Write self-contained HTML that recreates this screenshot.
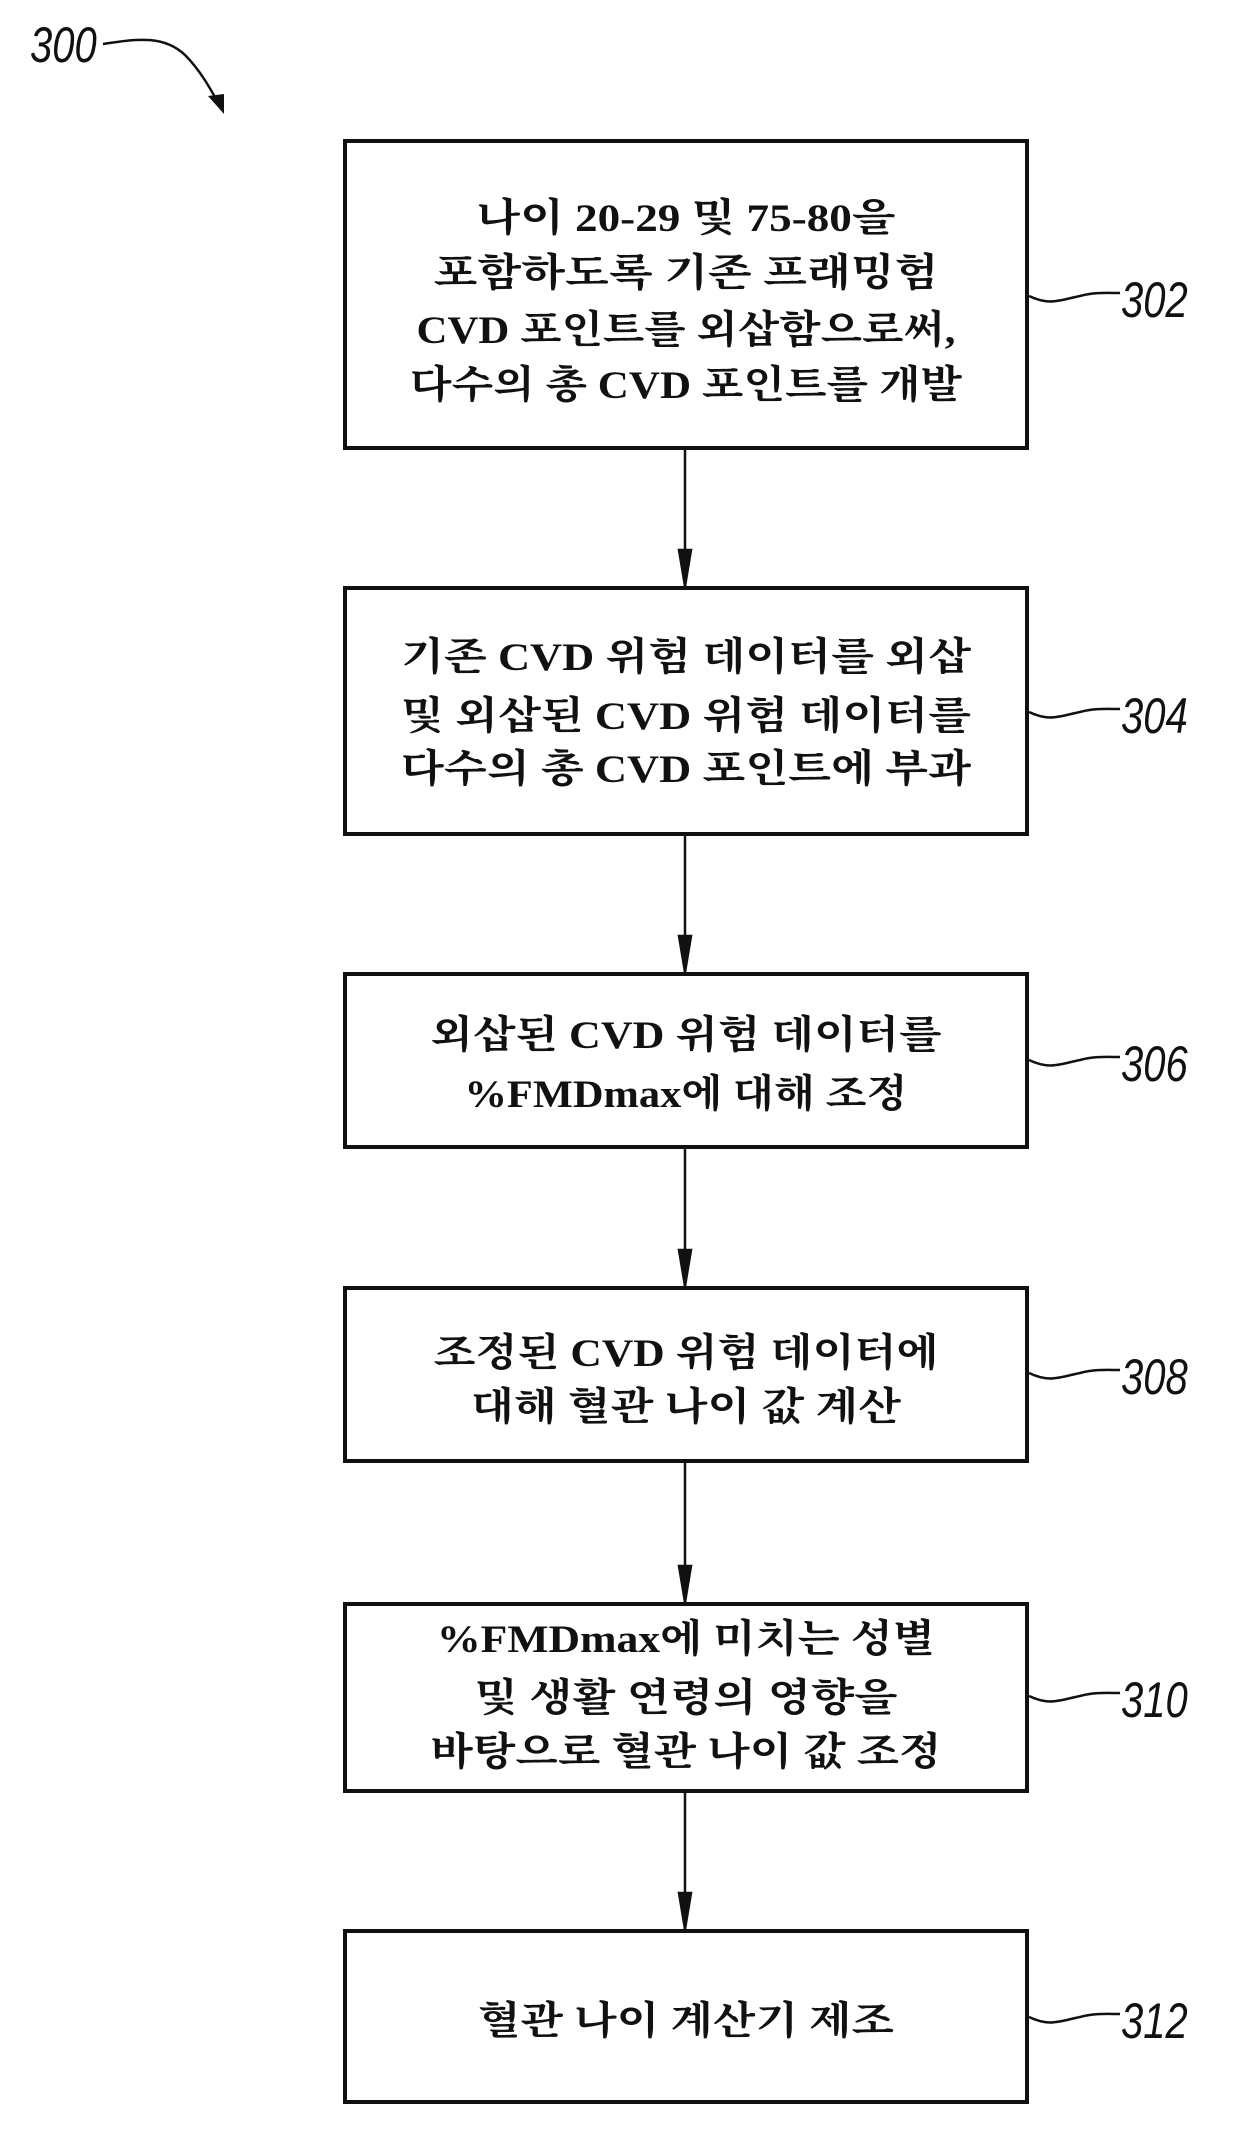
<!DOCTYPE html>
<html><head><meta charset="utf-8"><style>
html,body{margin:0;padding:0;background:#fff}
svg{display:block}
.t{font-family:"Liberation Serif","Noto Serif CJK SC","Noto Serif CJK KR",serif;font-weight:bold;font-size:39px;fill:#111;text-anchor:middle}
.l{font-family:"Liberation Sans",sans-serif;font-style:italic;font-size:50px;fill:#111}
</style></head><body>
<svg width="1240" height="2140" viewBox="0 0 1240 2140" xmlns="http://www.w3.org/2000/svg">
<g fill="none" stroke="#111" stroke-width="4">
<rect x="345" y="141" width="682" height="307"/>
<rect x="345" y="588" width="682" height="246"/>
<rect x="345" y="974" width="682" height="173"/>
<rect x="345" y="1288" width="682" height="173"/>
<rect x="345" y="1604" width="682" height="187"/>
<rect x="345" y="1931" width="682" height="171"/>
</g>
<g stroke="#111" stroke-width="2.5">
<line x1="685" y1="448" x2="685" y2="586"/><path d="M679,550 L691,550 L685,586 Z" fill="#111"/>
<line x1="685" y1="834" x2="685" y2="972"/><path d="M679,936 L691,936 L685,972 Z" fill="#111"/>
<line x1="685" y1="1147" x2="685" y2="1286"/><path d="M679,1250 L691,1250 L685,1286 Z" fill="#111"/>
<line x1="685" y1="1461" x2="685" y2="1602"/><path d="M679,1566 L691,1566 L685,1602 Z" fill="#111"/>
<line x1="685" y1="1791" x2="685" y2="1929"/><path d="M679,1893 L691,1893 L685,1929 Z" fill="#111"/>
</g>
<g fill="none" stroke="#111" stroke-width="2.5">
<path d="M1029,296 C1050,306 1060,300 1080,296 C1095,292 1108,293 1120,293"/>
<path d="M1029,712 C1050,722 1060,716 1080,712 C1095,708 1108,709 1120,709"/>
<path d="M1029,1060 C1050,1070 1060,1064 1080,1060 C1095,1056 1108,1057 1120,1057"/>
<path d="M1029,1373 C1050,1383 1060,1377 1080,1373 C1095,1369 1108,1370 1120,1370"/>
<path d="M1029,1696 C1050,1706 1060,1700 1080,1696 C1095,1692 1108,1693 1120,1693"/>
<path d="M1029,2017 C1050,2027 1060,2021 1080,2017 C1095,2013 1108,2014 1120,2014"/>
<path d="M103,44 C140,38 165,36 185,55 C200,70 210,88 220,106"/>
</g>
<path d="M208,96 L224,94 L224,114 Z" fill="#111"/>
<g class="l">
<text x="30" y="62" transform="translate(30 62) scale(0.8,1) translate(-30 -62)">300</text>
<text x="1121" y="317" transform="translate(1121 317) scale(0.8,1) translate(-1121 -317)">302</text>
<text x="1121" y="733" transform="translate(1121 733) scale(0.8,1) translate(-1121 -733)">304</text>
<text x="1121" y="1081" transform="translate(1121 1081) scale(0.8,1) translate(-1121 -1081)">306</text>
<text x="1121" y="1394" transform="translate(1121 1394) scale(0.8,1) translate(-1121 -1394)">308</text>
<text x="1121" y="1717" transform="translate(1121 1717) scale(0.8,1) translate(-1121 -1717)">310</text>
<text x="1121" y="2038" transform="translate(1121 2038) scale(0.8,1) translate(-1121 -2038)">312</text>
</g>
<g class="t">
<text x="686" y="231" textLength="419" lengthAdjust="spacingAndGlyphs">나이 20-29 및 75-80을</text>
<text x="686" y="286" textLength="505" lengthAdjust="spacingAndGlyphs">포함하도록 기존 프래밍험</text>
<text x="686" y="343" textLength="539" lengthAdjust="spacingAndGlyphs">CVD 포인트를 외삽함으로써,</text>
<text x="686" y="398" textLength="552" lengthAdjust="spacingAndGlyphs">다수의 총 CVD 포인트를 개발</text>
<text x="686" y="670" textLength="570" lengthAdjust="spacingAndGlyphs">기존 CVD 위험 데이터를 외삽</text>
<text x="686" y="729" textLength="570" lengthAdjust="spacingAndGlyphs">및 외삽된 CVD 위험 데이터를</text>
<text x="686" y="782" textLength="570" lengthAdjust="spacingAndGlyphs">다수의 총 CVD 포인트에 부과</text>
<text x="686" y="1048" textLength="511" lengthAdjust="spacingAndGlyphs">외삽된 CVD 위험 데이터를</text>
<text x="686" y="1107" textLength="443" lengthAdjust="spacingAndGlyphs">%FMDmax에 대해 조정</text>
<text x="686" y="1366" textLength="505" lengthAdjust="spacingAndGlyphs">조정된 CVD 위험 데이터에</text>
<text x="686" y="1420" textLength="430" lengthAdjust="spacingAndGlyphs">대해 혈관 나이 값 계산</text>
<text x="686" y="1652" textLength="498" lengthAdjust="spacingAndGlyphs">%FMDmax에 미치는 성별</text>
<text x="686" y="1711" textLength="423" lengthAdjust="spacingAndGlyphs">및 생활 연령의 영향을</text>
<text x="686" y="1765" textLength="511" lengthAdjust="spacingAndGlyphs">바탕으로 혈관 나이 값 조정</text>
<text x="686" y="2034" textLength="416" lengthAdjust="spacingAndGlyphs">혈관 나이 계산기 제조</text>
</g>
</svg>
</body></html>
